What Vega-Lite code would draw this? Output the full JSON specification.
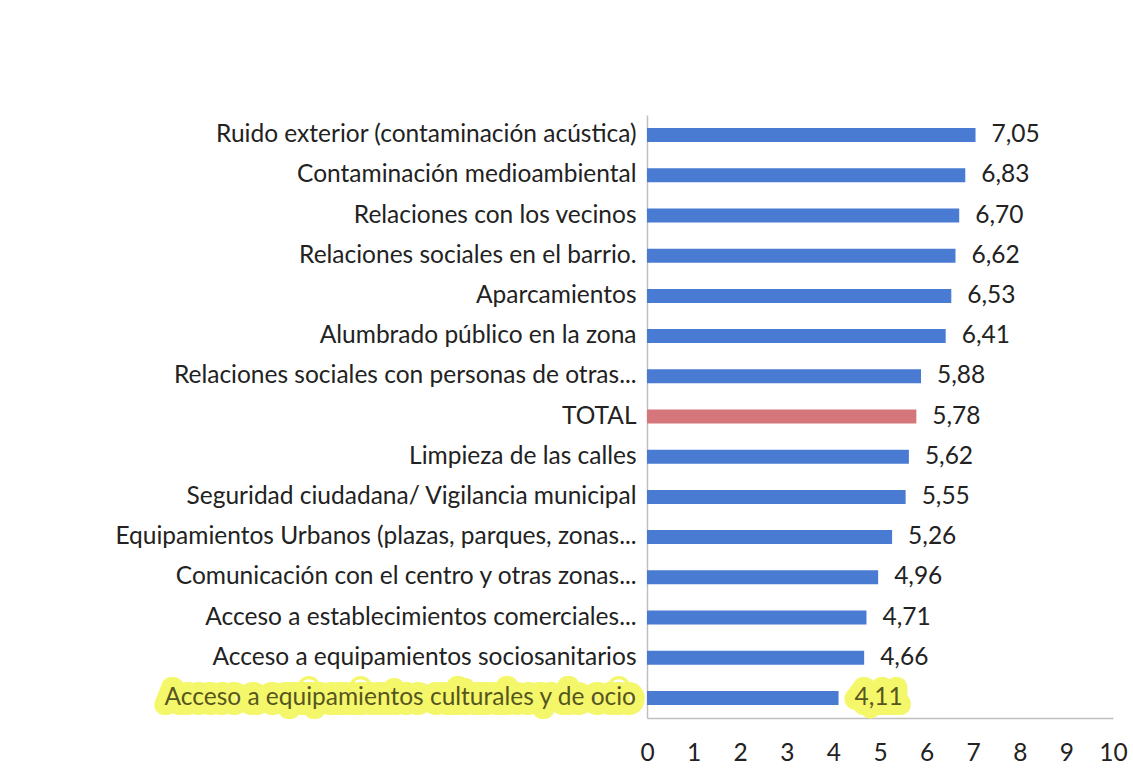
{
  "$schema": "https://vega.github.io/schema/vega-lite/v6.json",
  "width": 466,
  "height": 603,
  "autosize": {"type": "none"},
  "padding": {"left": 647, "top": 115, "right": 20, "bottom": 64},
  "background": "white",
  "config": {
    "locale": {"number": {"decimal": ",", "thousands": ".", "grouping": [3], "currency": ["", " €"]}},
    "view": {"stroke": null},
    "font": "Lato",
    "axis": {"grid": false, "ticks": false, "tickSize": 0, "domainColor": "#bfbfbf", "domainWidth": 1.5, "labelFont": "Lato", "labelFontSize": 24.5, "labelColor": "#222222", "title": null}
  },
  "data": {"values": [
    {"category": "Ruido exterior (contaminación acústica)", "value": 7.05, "highlight": false},
    {"category": "Contaminación medioambiental", "value": 6.83, "highlight": false},
    {"category": "Relaciones con los vecinos", "value": 6.70, "highlight": false},
    {"category": "Relaciones sociales en el barrio.", "value": 6.62, "highlight": false},
    {"category": "Aparcamientos", "value": 6.53, "highlight": false},
    {"category": "Alumbrado público en la zona", "value": 6.41, "highlight": false},
    {"category": "Relaciones sociales con personas de otras...", "value": 5.88, "highlight": false},
    {"category": "TOTAL", "value": 5.78, "highlight": false},
    {"category": "Limpieza de las calles", "value": 5.62, "highlight": false},
    {"category": "Seguridad ciudadana/ Vigilancia municipal", "value": 5.55, "highlight": false},
    {"category": "Equipamientos Urbanos (plazas, parques, zonas...", "value": 5.26, "highlight": false},
    {"category": "Comunicación con el centro y otras zonas...", "value": 4.96, "highlight": false},
    {"category": "Acceso a establecimientos comerciales...", "value": 4.71, "highlight": false},
    {"category": "Acceso a equipamientos sociosanitarios", "value": 4.66, "highlight": false},
    {"category": "Acceso a equipamientos culturales y de ocio", "value": 4.11, "highlight": true}
  ]},
  "encoding": {
    "y": {
      "field": "category", "type": "nominal", "sort": null,
      "axis": {"labelLimit": 630, "labelPadding": 11}
    }
  },
  "layer": [
    {
      "mark": {"type": "bar", "size": 14},
      "encoding": {
        "x": {"field": "value", "type": "quantitative", "scale": {"domain": [0, 10]},
              "axis": {"values": [0,1,2,3,4,5,6,7,8,9,10], "labelPadding": 23, "labelFlush": false}},
        "color": {"condition": {"test": "datum.category == 'TOTAL'", "value": "#d5777a"}, "value": "#4a7bd3"}
      }
    },
    {
      "transform": [{"filter": "datum.highlight"}],
      "mark": {"type": "text", "align": "left", "baseline": "middle", "dx": 16, "fontSize": 24.5, "fill": "#f5f76a", "stroke": "#f5f76a", "strokeWidth": 20, "strokeJoin": "round", "clip": false},
      "encoding": {
        "x": {"field": "value", "type": "quantitative"},
        "text": {"field": "value", "type": "quantitative", "format": ".2f"}
      }
    },
    {
      "transform": [{"filter": "datum.highlight"}],
      "mark": {"type": "text", "align": "right", "baseline": "middle", "dx": -11, "fontSize": 24.5, "fill": "#f5f76a", "stroke": "#f5f76a", "strokeWidth": 20, "strokeJoin": "round", "clip": false},
      "encoding": {
        "x": {"datum": 0, "type": "quantitative"},
        "text": {"field": "category", "type": "nominal"}
      }
    },
    {
      "transform": [{"filter": "datum.highlight"}],
      "mark": {"type": "text", "align": "right", "baseline": "middle", "dx": -11, "fontSize": 24.5, "fill": "#55561f", "clip": false},
      "encoding": {
        "x": {"datum": 0, "type": "quantitative"},
        "text": {"field": "category", "type": "nominal"}
      }
    },
    {
      "mark": {"type": "text", "align": "left", "baseline": "middle", "dx": 16, "fontSize": 24.5},
      "encoding": {
        "x": {"field": "value", "type": "quantitative"},
        "text": {"field": "value", "type": "quantitative", "format": ".2f"},
        "color": {"condition": {"test": "datum.highlight", "value": "#55561f"}, "value": "#222222"}
      }
    }
  ]
}
